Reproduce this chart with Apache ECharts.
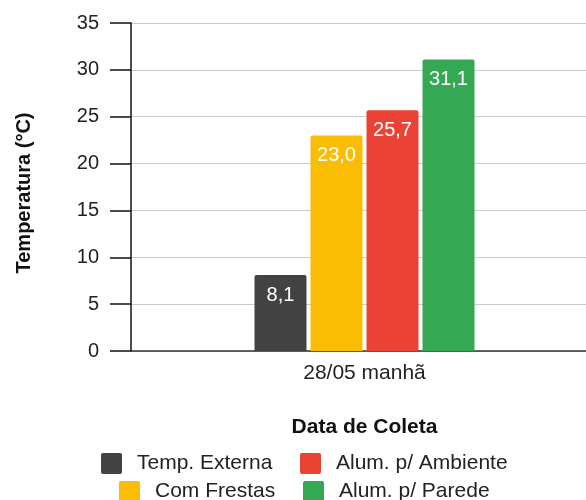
<!DOCTYPE html>
<html>
<head>
<meta charset="utf-8">
<script src="https://cdn.jsdelivr.net/npm/echarts@6/dist/echarts.min.js"></script>
<style>
  html, body { margin: 0; padding: 0; background: #fff; }
  #chart { width: 586px; height: 500px; }
</style>
</head>
<body>
<div id="chart"></div>
<script>
// Temperature readings for the morning collection
const categories = ['28/05 manhã'];
const seriesNames = ['Temp. Externa', 'Com Frestas', 'Alum. p/ Ambiente', 'Alum. p/ Parede'];
const tempExterna = [8.1];
const comFrestas = [23.0];
const alumAmbiente = [25.7];
const alumParede = [31.1];
const seriesColors = ['#424242', '#FBBC04', '#EA4335', '#34A853'];
const yTicks = [0, 5, 10, 15, 20, 25, 30, 35];

const seriesValues = [tempExterna, comFrestas, alumAmbiente, alumParede];
const FONT = 'Liberation Sans, Arial, sans-serif';
// square legend swatch with slightly rounded corners
const SWATCH = 'path://M2,0 H19 Q21,0 21,2 V19 Q21,21 19,21 H2 Q0,21 0,19 V2 Q0,0 2,0 Z';

const chart = echarts.init(document.getElementById('chart'), null, { renderer: 'canvas' });

function legendAt(name, left, top) {
  return {
    data: [name],
    left: left,
    top: top,
    padding: 0,
    itemWidth: 21,
    itemHeight: 21,
    icon: SWATCH,
    selectedMode: false,
    textStyle: { fontFamily: FONT, fontSize: 21, color: '#222', padding: [0, 0, 0, 10] }
  };
}

chart.setOption({
  animation: false,
  textStyle: { fontFamily: FONT },
  // plot extends past the right edge of the canvas
  grid: { left: 131, right: -12, top: 23, bottom: 149, containLabel: false, outerBoundsMode: 'none' },
  legend: [
    legendAt(seriesNames[0], 101, 453),
    legendAt(seriesNames[2], 300, 453),
    legendAt(seriesNames[1], 119, 481),
    legendAt(seriesNames[3], 303, 481)
  ],
  xAxis: {
    type: 'category',
    data: categories,
    name: 'Data de Coleta',
    nameLocation: 'middle',
    nameGap: 66,
    nameTextStyle: { fontFamily: FONT, fontSize: 21, fontWeight: 'bold', color: '#111' },
    axisLine: { lineStyle: { color: '#333', width: 1.5 } },
    axisTick: { show: false },
    axisLabel: { fontFamily: FONT, fontSize: 21, color: '#222', margin: 12 }
  },
  yAxis: {
    type: 'value',
    min: yTicks[0],
    max: yTicks[yTicks.length - 1],
    interval: 5,
    name: 'Temperatura (°C)',
    nameLocation: 'middle',
    nameGap: 97,
    nameTextStyle: {
      fontFamily: FONT, fontSize: 20, fontWeight: 'bold', color: '#111',
      padding: [0, 12, 0, 0]
    },
    axisLine: { show: true, lineStyle: { color: '#111', width: 1.5 } },
    axisTick: { show: true, length: 21, lineStyle: { color: '#111', width: 1.5 } },
    axisLabel: { fontFamily: FONT, fontSize: 20, color: '#222', margin: 32 },
    splitLine: { lineStyle: { color: '#cccccc', width: 1 } }
  },
  series: seriesNames.map((name, i) => ({
    name: name,
    type: 'bar',
    data: seriesValues[i],
    barWidth: 52,
    barGap: '7.7%',
    itemStyle: { color: seriesColors[i], borderRadius: [2, 2, 0, 0] },
    label: {
      show: true,
      position: 'insideTop',
      distance: 10,
      fontFamily: FONT,
      fontSize: 20,
      color: '#fff',
      formatter: p => p.value.toFixed(1).replace('.', ',')
    }
  }))
});
</script>
</body>
</html>
